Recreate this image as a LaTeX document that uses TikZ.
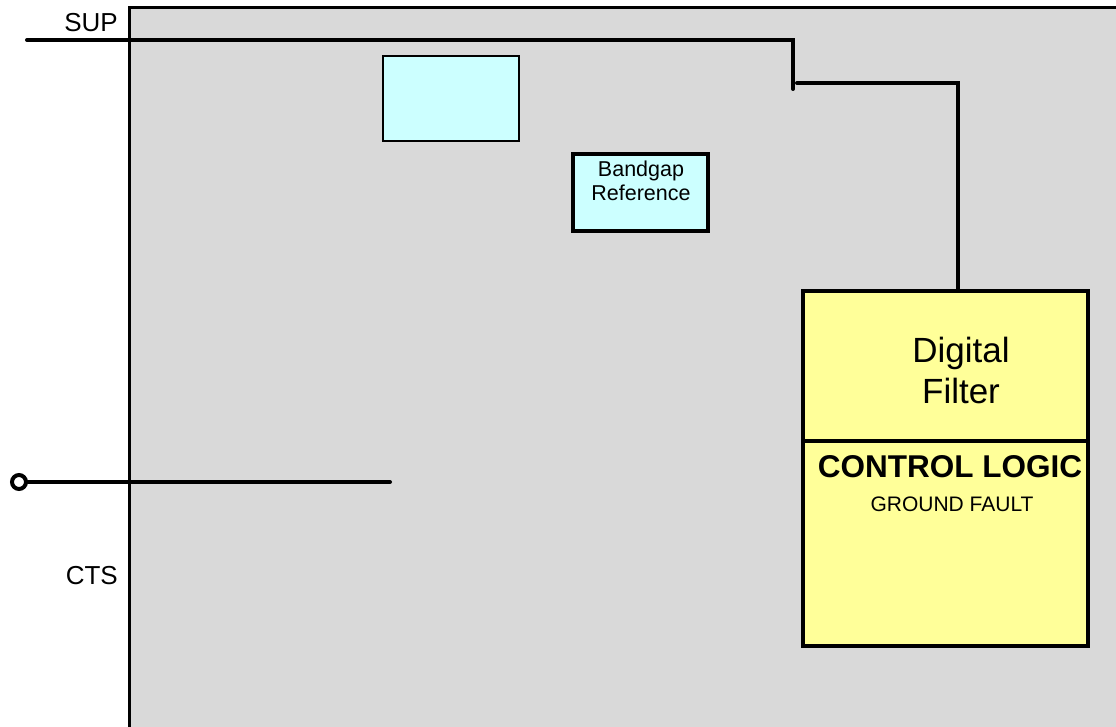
\documentclass[tikz,border=0pt]{standalone}
\usepackage{fontspec}
\setmainfont{Liberation Sans}
\definecolor{panelgray}{HTML}{D9D9D9}
\definecolor{lightcyan}{HTML}{CCFFFF}
\definecolor{lightyellow}{HTML}{FFFF99}
\tikzset{
  wire/.style={line width=4pt, line cap=round},
  cyanbox/.style={draw=black, fill=lightcyan},
  yellowbox/.style={draw=black, fill=lightyellow, line width=4pt},
  lbl/.style={inner sep=0pt, font=\fontsize{26}{30}\selectfont},
}
\begin{document}
\begin{tikzpicture}[x=1pt,y=-1pt]
\useasboundingbox (0,0) rectangle (1116,727);
% main panel
\path[fill=panelgray] (129,8) rectangle (1130,740);
\draw[line width=3pt] (129,740) -- (129,8) -- (1130,8);
% cyan blocks
\node[cyanbox, line width=2pt, minimum width=136pt, minimum height=85pt, inner sep=0pt] (blank) at (451,98.5) {};
\node[cyanbox, line width=3.5pt, minimum width=135pt, minimum height=77pt, inner sep=0pt] (bandgap) at (640.5,192.5) {};
\node[align=center, inner sep=0pt, font=\fontsize{21.5}{24}\selectfont, anchor=base] (bgtext) at (641,201) {Bandgap\\Reference};
% digital filter / control logic
\node[yellowbox, minimum width=285pt, minimum height=150pt, inner sep=0pt] (filter) at (945.5,366) {};
\node[yellowbox, minimum width=285pt, minimum height=205pt, inner sep=0pt] (logic) at (945.5,543.5) {};
\node[align=center, inner sep=0pt, font=\fontsize{35}{41}\selectfont, anchor=base] (ftext) at (961,403) {Digital\\Filter};
\node[inner sep=0pt, font=\bfseries\fontsize{31.5}{36}\selectfont, anchor=base] (ltitle) at (950,477) {CONTROL LOGIC};
\node[inner sep=0pt, font=\fontsize{21}{25}\selectfont, anchor=base] (lsub) at (952,511) {GROUND FAULT};
% SUP wiring
\coordinate (supin) at (27,40);
\coordinate (supcorner) at (793,40);
\coordinate (supend) at (793,89);
\coordinate (tapstart) at (797,83);
\coordinate (tapcorner) at (958,83);
\draw[wire] (supin) -- (supcorner) -- (supend);
\draw[wire] (tapstart) -- (tapcorner) -- (filter.north -| tapcorner);
\node[lbl, anchor=base east] (sup) at (118,32) {SUP};
% CTS
\node[circle, draw=black, line width=4pt, fill=white, minimum size=14pt, inner sep=0pt] (ctspin) at (19,482) {};
\coordinate (ctsend) at (390,482);
\draw[wire] (ctspin) -- (ctsend);
\node[lbl, anchor=base east] (cts) at (118,584) {CTS};
\end{tikzpicture}
\end{document}
